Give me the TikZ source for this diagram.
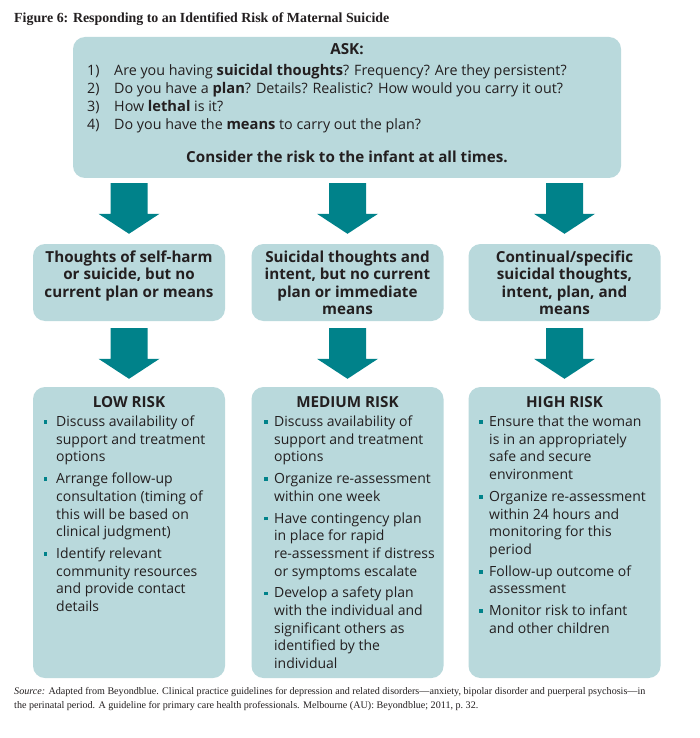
\documentclass[tikz,border=0pt]{standalone}
\usepackage{fontspec}
\setmainfont{Open Sans}
\newfontfamily\serifft[Ligatures=TeX]{Liberation Serif}
\usetikzlibrary{calc}
\definecolor{boxc}{HTML}{B9D9DC}
\definecolor{arrc}{HTML}{00828A}
\definecolor{txtc}{HTML}{231F20}
\newcommand\bul[1][6.5pt]{\llap{\textcolor{arrc}{\rule[2.6pt]{3.6pt}{3.6pt}}\hspace{#1}}}
\newcommand\bb[1]{{\fontsize{14.7}{18}\selectfont\bfseries #1}}
\newcommand\bigarrow[4]{%
  \fill[arrc] let \p1=(#2.north), \p2=(#1.south) in
    (\x1-18.5pt,\y2-#3) -- (\x1+18.5pt,\y2-#3) -- (\x1+18.5pt,\y1+#4+20pt)
    -- (\x1+30.5pt,\y1+#4+20pt) -- (\x1,\y1+#4) -- (\x1-30.5pt,\y1+#4+20pt)
    -- (\x1-18.5pt,\y1+#4+20pt) -- cycle;}
\begin{document}
\begin{tikzpicture}[x=1pt,y=-1pt,
  box/.style={fill=boxc, rounded corners=12pt, minimum width=192pt, inner sep=0pt},
  head/.style={font=\fontsize{15.2}{17.6}\selectfont\bfseries, text=txtc, inner sep=0pt},
  body/.style={font=\fontsize{14}{17.7}\selectfont, text=txtc, inner sep=0pt},
  qbody/.style={font=\fontsize{14.3}{18}\selectfont, text=txtc, inner sep=0pt}]
\useasboundingbox (0,0) rectangle (700,738);
\fill[white] (0,0) rectangle (700,738);

\node[anchor=base west, inner sep=0pt, text=txtc, font=\serifft\bfseries\fontsize{13.9}{16}\selectfont] (title) at (14,23)
  {Figure 6: Responding to an Identified Risk of Maternal Suicide};

% ASK box
\node[box, minimum width=548pt, minimum height=141pt] (ask) at (347,107.5) {};
\node[head, anchor=base] (askh) at (347,55) {ASK:};
\node[qbody, anchor=base west] (qt) at (87,75.5)
  {\begin{tabular}[t]{@{}p{27pt}@{}l@{}}
   1) & Are you having \bb{suicidal thoughts}? Frequency? Are they persistent?\\
   2) & Do you have a \bb{plan}? Details? Realistic? How would you carry it out?\\
   3) & How \bb{lethal} is it?\\
   4) & Do you have the \bb{means} to carry out the plan?
   \end{tabular}};
\node[head, anchor=base] (cons) at (347,163) {Consider the risk to the infant at all times.};

% middle boxes
\node[box, minimum height=77pt] (m1) at (129,282.5) {};
\node[box, minimum height=77pt] (m2) at (347.5,282.5) {};
\node[box, minimum height=77pt] (m3) at (564.5,282.5) {};
\node[head, anchor=base] (m1t) at (129,262)
  {\begin{tabular}[t]{@{}c@{}}Thoughts of self-harm\\or suicide, but no\\current plan or means\end{tabular}};
\node[head, anchor=base] (m2t) at (347.5,262)
  {\begin{tabular}[t]{@{}c@{}}Suicidal thoughts and\\intent, but no current\\plan or immediate\\means\end{tabular}};
\node[head, anchor=base] (m3t) at (564.5,262)
  {\begin{tabular}[t]{@{}c@{}}Continual/specific\\suicidal thoughts,\\intent, plan, and\\means\end{tabular}};

% bottom boxes
\node[box, minimum height=291pt] (b1) at (129,532.5) {};
\node[box, minimum height=291pt] (b2) at (347.5,532.5) {};
\node[box, minimum height=291pt] (b3) at (564.5,532.5) {};
\node[head, anchor=base] (b1h) at (129,407.5) {LOW RISK};
\node[head, anchor=base] (b2h) at (347.5,407.5) {MEDIUM RISK};
\node[head, anchor=base] (b3h) at (564.5,407.5) {HIGH RISK};

\node[body, anchor=base west] (b1t) at (56,426.5)
  {\begin{tabular}[t]{@{}l@{}}
   \bul[9pt]Discuss availability of\\support and treatment\\options\\[4pt]
   \bul[9pt]Arrange follow-up\\consultation (timing of\\this will be based on\\clinical judgment)\\[4pt]
   \bul[9pt]Identify relevant\\community resources\\and provide contact\\details
   \end{tabular}};
\node[body, anchor=base west] (b2t) at (274,426.5)
  {\begin{tabular}[t]{@{}l@{}}
   \bul Discuss availability of\\support and treatment\\options\\[4pt]
   \bul Organize re-assessment\\within one week\\[4pt]
   \bul Have contingency plan\\in place for rapid\\re-assessment if distress\\or symptoms escalate\\[4pt]
   \bul Develop a safety plan\\with the individual and\\significant others as\\identified by the\\individual
   \end{tabular}};
\node[body, anchor=base west] (b3t) at (489,426.5)
  {\begin{tabular}[t]{@{}l@{}}
   \bul Ensure that the woman\\is in an appropriately\\safe and secure\\environment\\[4pt]
   \bul Organize re-assessment\\within 24 hours and\\monitoring for this\\period\\[4pt]
   \bul Follow-up outcome of\\assessment\\[4pt]
   \bul Monitor risk to infant\\and other children
   \end{tabular}};

% arrows
\bigarrow{ask}{m1}{5pt}{10pt}
\bigarrow{ask}{m2}{5pt}{10pt}
\bigarrow{ask}{m3}{5pt}{10pt}
\bigarrow{m1}{b1}{7pt}{8pt}
\bigarrow{m2}{b2}{7pt}{8pt}
\bigarrow{m3}{b3}{7pt}{8pt}

% source
\node[anchor=base west, inner sep=0pt, text=txtc, font=\serifft\fontsize{10.1}{14}\selectfont] (src) at (14,694)
  {\begin{tabular}[t]{@{}l@{}}
   \textit{Source:} Adapted from Beyondblue. Clinical practice guidelines for depression and related disorders—anxiety, bipolar disorder and puerperal psychosis—in\\
   the perinatal period. A guideline for primary care health professionals. Melbourne (AU): Beyondblue; 2011, p.~32.
   \end{tabular}};
\end{tikzpicture}
\end{document}
